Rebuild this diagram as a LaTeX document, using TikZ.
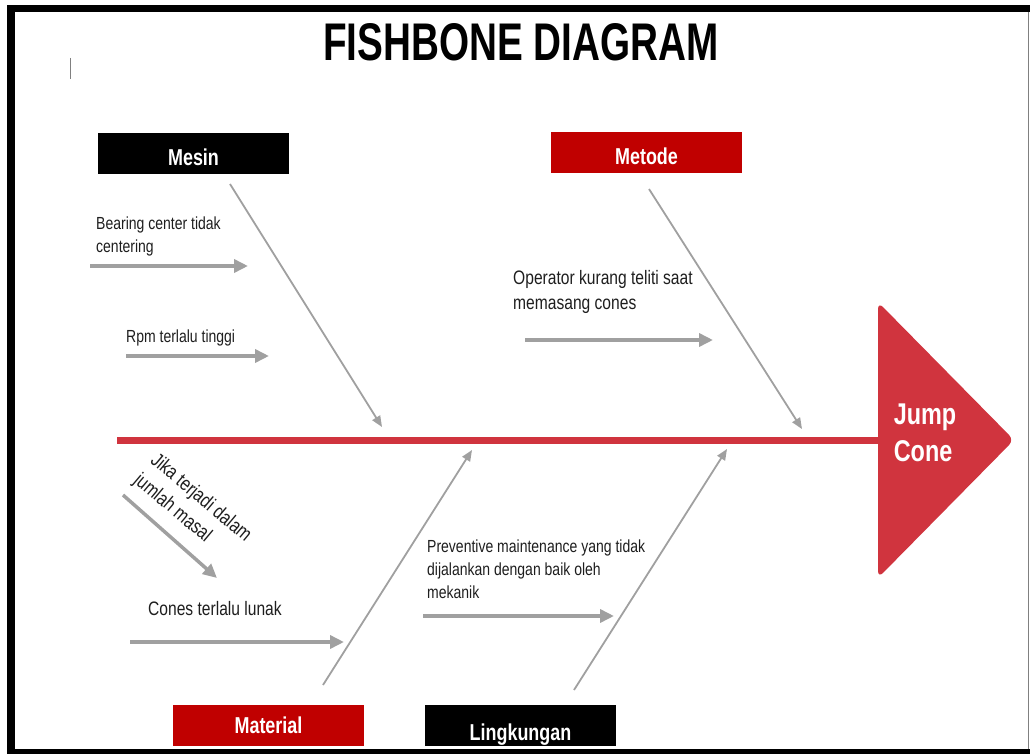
\documentclass[tikz,border=0pt]{standalone}
\usepackage{fontspec}
\setmainfont{Liberation Sans}
\newfontfamily\titlefont{Liberation Sans}[FakeStretch=0.73]
\newfontfamily\narrowfont{Liberation Sans}[FakeStretch=0.8]
\newfontfamily\labelfont{Liberation Sans}[FakeStretch=0.78]
\usepackage{tikz}
\definecolor{fishred}{RGB}{208, 52, 62}
\definecolor{boxred}{RGB}{192, 0, 0}
\definecolor{bonegray}{RGB}{160, 160, 160}
\definecolor{causetext}{RGB}{30, 30, 30}
\usetikzlibrary{arrows.meta, calc}

\begin{document}
\begin{tikzpicture}[x=1pt, y=-1pt,
    catbox/.style={fill=#1, text=white, minimum width=191pt, minimum height=41pt,
                   inner sep=0pt, text depth=0pt, text height=23.5pt,
                   font=\labelfont\bfseries\fontsize{23}{26}\selectfont},
    cause/.style={anchor=north west, inner sep=0pt, align=left, text=causetext,
                  font=\narrowfont\fontsize{17.5}{23}\selectfont},
    bigcause/.style={cause, font=\narrowfont\fontsize{19.5}{25}\selectfont},
    bone/.style={draw=bonegray, line width=1.8pt, -{Triangle[length=11pt, width=9pt]}},
    subcause/.style={draw=bonegray, line width=3.5pt, -{Triangle[length=14pt, width=13pt]}}
]
    \useasboundingbox (0,0) rectangle (1030,754);

    % frame
    \fill (7,5) rectangle (1030,12);
    \fill (7,5) rectangle (15,754);
    \fill (7,749) rectangle (1030,754);
    \draw[gray, line width=1.5pt] (1028.5,12) -- (1028.5,749);
    \draw[gray, line width=1pt] (70,58) -- (70,79);

    \node[font=\titlefont\bfseries\fontsize{53}{60}\selectfont] (title) at (521,42) {FISHBONE DIAGRAM};

    % head and spine
    \fill[fishred, rounded corners=7pt] (878,302) -- (1014,440) -- (878,578) -- cycle;
    \node[text=white, align=left, inner sep=0pt,
          font=\labelfont\bfseries\fontsize{30}{37}\selectfont] (head) at (925,433) {Jump\\Cone};
    \coordinate (tail) at (117,440.5);
    \coordinate (headleft) at (879,440.5);
    \draw[fishred, line width=7pt] (tail) -- (headleft);

    % categories
    \node[catbox=black] (mesin) at (193.5,153.5) {Mesin};
    \node[catbox=boxred] (metode) at (646.5,152.5) {Metode};
    \node[catbox=boxred, text height=17.5pt] (material) at (268.5,725) {Material};
    \node[catbox=black, text height=30.5pt] (lingkungan) at (520.5,725) {Lingkungan};

    \coordinate (mesinfoot) at (230,184);
    \coordinate (mesintip) at (382,427);
    \coordinate (metodefoot) at (649,189);
    \coordinate (metodetip) at (802,429);
    \coordinate (materialfoot) at (323,685);
    \coordinate (materialtip) at (472,450);
    \coordinate (lingkunganfoot) at (574,690);
    \coordinate (lingkungantip) at (727,449);

    \draw[bone] (mesinfoot) -- (mesintip);
    \draw[bone] (metodefoot) -- (metodetip);
    \draw[bone] (materialfoot) -- (materialtip);
    \draw[bone] (lingkunganfoot) -- (lingkungantip);

    % causes
    \node[cause] (bearing) at (96,217) {Bearing center tidak\\centering};
    \node[cause] (rpm) at (126,330) {Rpm terlalu tinggi};
    \node[bigcause] (operator) at (513,270) {Operator kurang teliti saat\\memasang cones};
    \node[cause, rotate=-40, font=\narrowfont\fontsize{20}{26}\selectfont] (masal) at (159,451) {Jika terjadi dalam\\jumlah masal};
    \node[bigcause] (lunak) at (148,601) {Cones terlalu lunak};
    \node[cause] (preventive) at (427,540) {Preventive maintenance yang tidak\\dijalankan dengan baik oleh\\mekanik};

    \coordinate (bearing1) at (90,266);
    \coordinate (bearing2) at (248,266);
    \coordinate (rpm1) at (126,356);
    \coordinate (rpm2) at (269,356);
    \coordinate (operator1) at (525,340);
    \coordinate (operator2) at (713,340);
    \coordinate (masal1) at (123,495);
    \coordinate (masal2) at (217,578);
    \coordinate (lunak1) at (130,642);
    \coordinate (lunak2) at (344,642);
    \coordinate (preventive1) at (423,616);
    \coordinate (preventive2) at (614,616);

    \draw[subcause] (bearing1) -- (bearing2);
    \draw[subcause] (rpm1) -- (rpm2);
    \draw[subcause] (operator1) -- (operator2);
    \draw[subcause] (masal1) -- (masal2);
    \draw[subcause] (lunak1) -- (lunak2);
    \draw[subcause] (preventive1) -- (preventive2);
\end{tikzpicture}
\end{document}
